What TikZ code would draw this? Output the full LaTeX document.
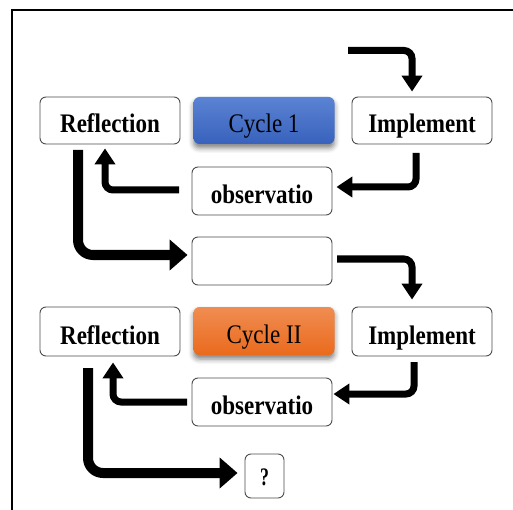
\documentclass[tikz,border=0pt]{standalone}
\usepackage{fontspec}
\usepackage{graphicx}
\setmainfont{Liberation Serif}
\usetikzlibrary{arrows.meta,shadows.blur,calc}
\definecolor{blueT}{HTML}{5B83D3}
\definecolor{blueB}{HTML}{3862BC}
\definecolor{orT}{HTML}{F08D52}
\definecolor{orB}{HTML}{EA6A1C}
\newcommand\tallt[1]{\scalebox{0.98}[1.14]{#1}}
\begin{document}
\begin{tikzpicture}[x=1pt,y=-1pt,
  box/.style={draw=black!70, line width=0.9pt, rounded corners=6pt, fill=white,
    minimum width=140pt, minimum height=47pt, inner sep=0pt,
    font=\fontsize{23.5}{27}\selectfont\bfseries, text height=25pt, text depth=0pt},
  cyclebox/.style={rounded corners=6pt, minimum width=141pt, minimum height=47pt, inner sep=0pt,
    font=\fontsize{23.5}{27}\selectfont, text height=25pt, text depth=0pt,
    blur shadow={shadow xshift=0pt, shadow yshift=-4pt, shadow blur radius=5pt, shadow opacity=50}},
  thinarrow/.style={line width=7pt, rounded corners=8pt, -{Triangle[width=20pt,length=16pt]}},
  thickarrow/.style={line width=10pt, rounded corners=15pt, -{Triangle[width=30pt,length=18pt]}}
]
\useasboundingbox (0,0) rectangle (513,510);
\draw[line width=1.3pt] (12,510) -- (12,10) -- (513,10);

% cycle 1
\node[box] (ref1) at (110,120.5) {\tallt{Reflection}};
\node[cyclebox, top color=blueT, bottom color=blueB] (cyc1) at (264,120.5) {\tallt{Cycle 1}};
\node[box] (imp1) at (422,120.5) {\tallt{Implement}};
\node[box, minimum height=48pt] (obs1) at (262,191) {\tallt{observatio}};
\node[box, minimum height=48pt] (emp) at (262,261) {};

% cycle 2
\node[box, minimum height=49pt] (ref2) at (110,331.5) {\tallt{Reflection}};
\node[cyclebox, minimum height=48pt, top color=orT, bottom color=orB] (cyc2) at (264,331) {\tallt{Cycle II}};
\node[box, minimum height=49pt] (imp2) at (422,331.5) {\tallt{Implement}};
\node[box, minimum height=48pt] (obs2) at (262,402) {\tallt{observatio}};
\node[box, minimum width=39pt, minimum height=44pt, font=\fontsize{21}{24}\selectfont\bfseries, text height=18pt] (q) at (264.5,476) {\scalebox{0.85}[1.2]{?}};

% free start points
\coordinate (s1) at (348,50.5);
\coordinate (s2) at (416,153);
\coordinate (s3) at (179,190);
\coordinate (s4) at (78,150);
\coordinate (s5) at (337,259);
\coordinate (s6) at (414,362);
\coordinate (s7) at (187,402);
\coordinate (s8) at (88,368);

% arrows
\draw[thinarrow] (s1) -| ($(imp1.north)+(-10,-5)$);
\draw[thinarrow] (s2) |- ($(obs1.east)+(4,-4)$);
\draw[thinarrow] (s3) -| ($(ref1.south)+(-5,4)$);
\draw[thickarrow] (s4) |- ($(emp.west)+(-4,-6)$);
\draw[thinarrow] (s5) -| ($(imp2.north)+(-10,-7)$);
\draw[thinarrow] (s6) |- ($(obs2.east)+(1,-8)$);
\draw[thinarrow] (s7) -| ($(ref2.south)+(3,6)$);
\draw[thickarrow] (s8) |- ($(q.west)+(-7,-3)$);
\end{tikzpicture}
\end{document}
